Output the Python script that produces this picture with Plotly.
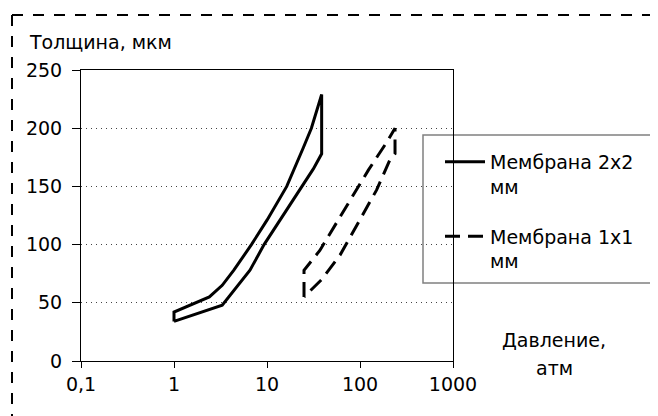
import plotly.graph_objects as go

# --- data ---
x_2x2 = [1, 1, 2.4, 3.3, 4.4, 5.5, 6.8, 10, 16.3, 24.5, 30, 38.7, 38.7, 31.5, 21.7, 15, 9.3, 6.56, 4.5, 3.3, 1]
y_2x2 = [34, 42, 55, 65, 78, 89, 100, 121, 150, 183, 200, 229, 178, 165, 145, 125, 100, 78, 61, 48, 34]
x_1x1 = [25, 25, 37, 58.5, 92, 123, 194, 238, 238, 210, 151, 92, 61, 38.7, 25]
y_1x1 = [55, 78, 95, 121, 147, 164, 188, 200, 178, 173, 147, 117, 91, 70, 55]
name_2x2 = "Мембрана 2x2<br>мм"
name_1x1 = "Мембрана 1x1<br>мм"
x_ticks = [0.1, 1, 10, 100, 1000]
x_ticktext = ["0,1", "1", "10", "100", "1000"]
y_ticks = [0, 50, 100, 150, 200, 250]
y_title = "Толщина, мкм"
x_title = ["Давление,", "атм"]

FONT = "DejaVu Sans"
FS = 19
OFF = 8  # page body margin
W, H = 658 - OFF, 416 - OFF
# plot area in page px
PL, PR, PT, PB = 81, 453, 70, 361
L, R, T, B = PL - OFF, PR - OFF, PT - OFF, PB - OFF


def px(xp):  # page px -> paper x
    return (xp - PL) / (PR - PL)


def py(yp):  # page px -> paper y
    return (PB - yp) / (PB - PT)


fig = go.Figure()
fig.add_trace(go.Scatter(x=x_2x2, y=y_2x2, mode="lines", name=name_2x2,
                         line=dict(color="black", width=3), legendgroup="a"))
fig.add_trace(go.Scatter(x=x_1x1, y=y_1x1, mode="lines", name=name_1x1,
                         line=dict(color="black", width=3, dash="15px,8px"), legendgroup="b"))

fig.update_layout(
    width=W, height=H,
    margin=dict(l=L, r=W - R, t=T, b=H - B),
    paper_bgcolor="white", plot_bgcolor="white",
    font=dict(family=FONT, size=FS, color="black"),
    showlegend=True,
    legend=dict(x=px(440), y=py(143), xanchor="left", yanchor="top",
                bgcolor="rgba(0,0,0,0)", borderwidth=0, valign="top",
                traceorder="grouped", tracegroupgap=22, itemwidth=40,
                font=dict(family=FONT, size=FS)),
    xaxis=dict(type="log", range=[-1, 3], tickvals=x_ticks, ticktext=x_ticktext,
               showgrid=False, showline=True, linecolor="black", linewidth=1,
               mirror=True, ticks="outside", ticklen=6, tickcolor="black",
               zeroline=False),
    yaxis=dict(range=[0, 250], tickvals=y_ticks, showgrid=True,
               gridcolor="#444", griddash="1px,4px", gridwidth=1,
               showline=True, linecolor="black", linewidth=1, mirror=True,
               ticks="outside", ticklen=8, tickcolor="black",
               ticklabelstandoff=6, zeroline=False),
    shapes=[
        # outer dashed frame (top and left)
        dict(type="line", xref="paper", yref="paper", x0=px(12), x1=px(652), y0=py(15), y1=py(15),
             line=dict(color="black", width=2, dash="11px,10px")),
        dict(type="line", xref="paper", yref="paper", x0=px(12), x1=px(12), y0=py(15), y1=py(420),
             line=dict(color="black", width=2, dash="11px,10px")),
        # legend box
        dict(type="rect", xref="paper", yref="paper", x0=px(423), x1=px(652), y0=py(135), y1=py(283),
             line=dict(color="#808080", width=1.5), fillcolor="white", layer="below"),
    ],
    annotations=[
        dict(text=y_title, xref="paper", yref="paper", x=px(27), y=py(42),
             xanchor="left", yanchor="middle", showarrow=False, font=dict(size=FS)),
        dict(text=x_title[0], xref="paper", yref="paper", x=px(554), y=py(340),
             xanchor="center", yanchor="middle", showarrow=False, font=dict(size=FS)),
        dict(text=x_title[1], xref="paper", yref="paper", x=px(554), y=py(368),
             xanchor="center", yanchor="middle", showarrow=False, font=dict(size=FS)),
    ],
)

fig.write_html("out.html")
